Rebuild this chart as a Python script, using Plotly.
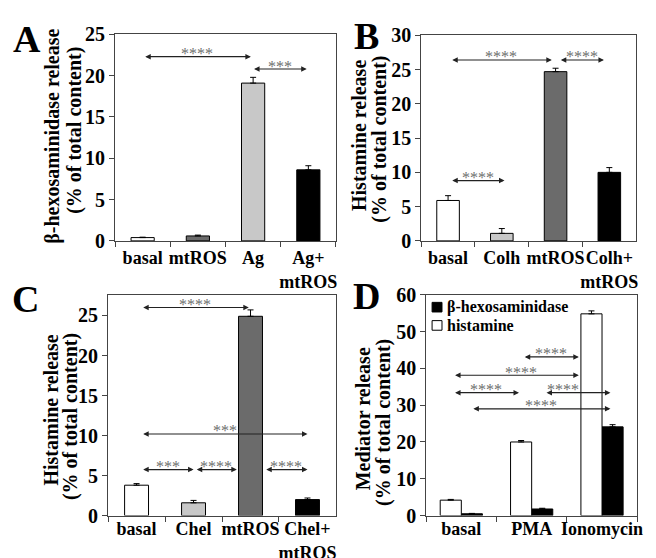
import plotly.graph_objects as go

# ---------------- data ----------------
cats_a = ["basal", "mtROS", "Ag", "Ag+<br>mtROS"]
vals_a = [0.4, 0.6, 19.1, 8.6]
err_a = [0.05, 0.1, 0.7, 0.5]

cats_b = ["basal", "Colh", "mtROS", "Colh+<br>mtROS"]
vals_b = [5.9, 1.1, 24.7, 10.0]
err_b = [0.7, 0.7, 0.5, 0.7]

cats_c = ["basal", "Chel", "mtROS", "Chel+<br>mtROS"]
vals_c = [3.8, 1.6, 24.9, 2.0]
err_c = [0.2, 0.3, 0.8, 0.2]

cats_d = ["basal", "PMA", "Ionomycin"]
hexo_d = [0.5, 1.8, 24.1]
hexo_err_d = [0.1, 0.2, 0.6]
hist_d = [4.2, 20.0, 54.8]
hist_err_d = [0.2, 0.4, 0.8]

colors4 = ["white", "#6b6b6b", "#c8c8c8", "black"]
colors_bc = ["white", "#c8c8c8", "#6b6b6b", "black"]

# significance brackets: (x_start, x_end, y, label, star_x)
sig_a = [(0.02, 1.96, 22.3, "****", None), (1.99, 2.97, 20.8, "***", None)]
sig_b = [(0.05, 1.93, 26.4, "****", None), (2.07, 2.9, 26.4, "****", None),
         (0.05, 1.05, 8.8, "****", None)]
sig_c = [(0.09, 1.97, 26.0, "****", None), (0.09, 3.0, 10.2, "***", None),
         (0.09, 1.0, 5.75, "***", None), (1.03, 1.76, 5.75, "****", None),
         (2.25, 3.0, 5.75, "****", None)]
sig_d = [(0.88, 1.67, 43.1, "****", None), (-0.11, 1.67, 38.1, "****", 0.85),
         (-0.11, 0.82, 33.4, "****", None), (1.19, 2.12, 33.4, "****", 1.44),
         (0.15, 2.12, 29.0, "****", None)]

FONT = "Liberation Serif, Times New Roman, serif"

fig = go.Figure()

def ebar(arr):
    return dict(type="data", array=arr, arrayminus=[0] * len(arr), symmetric=False,
                color="black", thickness=1, width=3)

fig.add_trace(go.Bar(x=cats_a, y=vals_a, error_y=ebar(err_a), width=0.42,
                     marker=dict(color=colors4, line=dict(color="black", width=1)),
                     xaxis="x", yaxis="y", showlegend=False))
fig.add_trace(go.Bar(x=cats_b, y=vals_b, error_y=ebar(err_b), width=0.42,
                     marker=dict(color=colors_bc, line=dict(color="black", width=1)),
                     xaxis="x2", yaxis="y2", showlegend=False))
fig.add_trace(go.Bar(x=cats_c, y=vals_c, error_y=ebar(err_c), width=0.42,
                     marker=dict(color=colors_bc, line=dict(color="black", width=1)),
                     xaxis="x3", yaxis="y3", showlegend=False))
fig.add_trace(go.Bar(x=cats_d, y=hexo_d, error_y=ebar(hexo_err_d), width=0.3, offset=0.0,
                     name="β-hexosaminidase", showlegend=False,
                     marker=dict(color="black", line=dict(color="black", width=1)),
                     xaxis="x4", yaxis="y4"))
fig.add_trace(go.Bar(x=cats_d, y=hist_d, error_y=ebar(hist_err_d), width=0.3, offset=-0.3,
                     name="histamine", showlegend=False,
                     marker=dict(color="white", line=dict(color="black", width=1)),
                     xaxis="x4", yaxis="y4"))

W, H = 656, 558
def dx(a, b):
    return [a / W, b / W]
def dy(top, bot):
    return [1 - bot / H, 1 - top / H]

xtickfont = dict(family=FONT, size=18, color="black", weight="bold")
ytickfont = dict(family=FONT, size=20, color="black", weight="bold")

def xax(dom, anchor, standoff=0):
    return dict(domain=dom, anchor=anchor, type="category", tickson="boundaries",
                ticks="outside", ticklen=5, tickcolor="#444", showline=True,
                linecolor="#444", linewidth=1, mirror=True, showgrid=False,
                tickfont=xtickfont, tickangle=0, zeroline=False, fixedrange=True,
                ticklabelstandoff=standoff)

def yax(dom, anchor, rng, dtick):
    return dict(domain=dom, anchor=anchor, range=rng, dtick=dtick, ticks="outside",
                ticklen=5, tickcolor="#444", showline=True, linecolor="#444", linewidth=1,
                mirror=True, showgrid=False, zeroline=False, tickfont=ytickfont,
                fixedrange=True)

fig.update_layout(
    width=W, height=H, margin=dict(l=0, r=0, t=0, b=0),
    paper_bgcolor="white", plot_bgcolor="white",
    barmode="overlay", showlegend=False,
    xaxis=xax(dx(108, 331), "y", 1), yaxis=yax(dy(16, 231), "x", [0, 25], 5),
    xaxis2=xax(dx(417, 634), "y2", 1), yaxis2=yax(dy(17, 231), "x2", [0, 30], 5),
    xaxis3=xax(dx(101, 331), "y3", -3), yaxis3=yax(dy(287, 517), "x3", [0, 27.6], 5),
    xaxis4=xax(dx(422, 635), "y4", -3), yaxis4=yax(dy(287, 517), "x4", [0, 60], 10),
    font=dict(family=FONT, color="black"),
)

anns = []
for sig, xr, yr in [(sig_a, "x", "y"), (sig_b, "x2", "y2"), (sig_c, "x3", "y3"), (sig_d, "x4", "y4")]:
    for x0, x1, yv, lab, sx in sig:
        anns.append(dict(x=x1, y=yv, ax=x0, ay=yv, xref=xr, yref=yr, axref=xr, ayref=yr,
                         showarrow=True, arrowhead=2, startarrowhead=2, arrowside="end+start",
                         arrowsize=1, startarrowsize=1, arrowwidth=1.1, arrowcolor="#222",
                         text="", standoff=0, startstandoff=0))
        anns.append(dict(x=sx if sx is not None else (x0 + x1) / 2, y=yv, xref=xr, yref=yr,
                         text=lab, showarrow=False, yanchor="middle", yshift=3,
                         font=dict(family=FONT, size=16, color="#6e6e6e")))

# panel letters
for lab, px, py in [("A", 19, 21), ("B", 362, 18), ("C", 18, 291), ("D", 362, 288)]:
    anns.append(dict(x=px / W, y=1 - py / H, xref="paper", yref="paper", text=lab,
                     showarrow=False, xanchor="center", yanchor="middle",
                     font=dict(family=FONT, size=38, color="black", weight="bold")))

# y-axis titles (one annotation per line)
ytitles = [("β-hexosaminidase release", 45, 122), ("(% of total content)", 67, 116),
           ("Histamine release", 354, 121), ("(% of total content)", 374, 125),
           ("Histamine release", 43, 407), ("(% of total content)", 63, 414),
           ("Mediator release", 358, 416), ("(% of total content)", 379, 420)]
for txt, px, py in ytitles:
    anns.append(dict(x=px / W, y=1 - py / H, xref="paper", yref="paper", text=txt,
                     showarrow=False, textangle=-90, xanchor="center", yanchor="middle",
                     font=dict(family=FONT, size=20, color="black", weight="bold")))

# legend for panel D (swatches + labels)
legend_items = [("β-hexosaminidase", "black", 300), ("histamine", "white", 319)]
shapes = []
for name, col, py in legend_items:
    shapes.append(dict(type="rect", xref="paper", yref="paper",
                       x0=428 / W, x1=438 / W, y0=1 - (py + 5) / H, y1=1 - (py - 5) / H,
                       fillcolor=col, line=dict(color="black", width=1)))
    anns.append(dict(x=441 / W, y=1 - py / H, xref="paper", yref="paper", text=name,
                     showarrow=False, xanchor="left", yanchor="middle",
                     font=dict(family=FONT, size=16, color="black", weight="bold")))

fig.update_layout(annotations=anns, shapes=shapes)
fig.write_html("out.html")
